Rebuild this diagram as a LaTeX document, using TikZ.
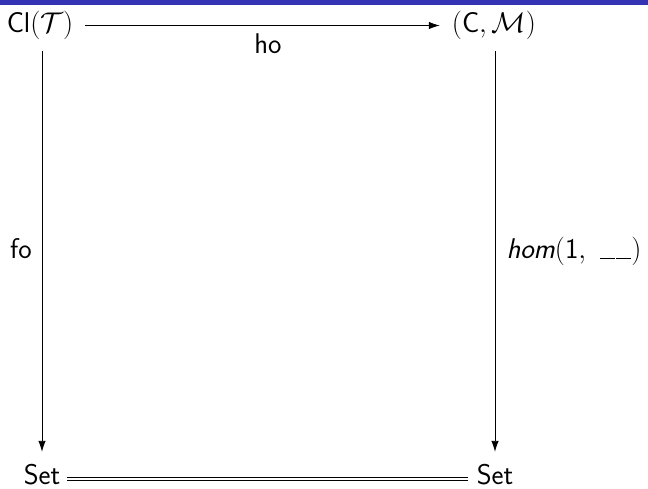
\RequirePackage{fix-cm}
\documentclass[tikz,border=0pt]{standalone}
\usetikzlibrary{arrows.meta}
\definecolor{barblue}{RGB}{51,51,179}
\newcommand{\blankarg}{\rule[-0.6pt]{15pt}{1.1pt}\hspace{1.5pt}\rule[-0.6pt]{15pt}{1.1pt}}
\begin{document}
\begin{tikzpicture}[x=1pt,y=-1pt,
  obj/.style={inner sep=12pt, text height=20pt, text depth=7pt,
    font=\fontsize{28.5}{34}\selectfont\sffamily},
  setobj/.style={inner xsep=0pt, inner ysep=3pt, text height=29pt, text depth=0pt,
    font=\fontsize{28.5}{34}\selectfont\sffamily},
  lbl/.style={inner sep=0pt, anchor=base, font=\fontsize{28.5}{34}\selectfont\sffamily},
  arr/.style={line width=0.9pt, -{Latex[length=11pt,width=7.5pt]}},
  eqline/.style={draw=black, line width=0.8pt, shorten <=7pt, shorten >=9pt}]
\useasboundingbox (0,0) rectangle (648,488);
\fill[barblue] (0,0) rectangle (648,5);
\node[obj, anchor=base] (cl) at (40,32) {$\mathsf{Cl}(\mathcal{T})$};
\node[obj, anchor=base] (cm) at (494,32) {$(\mathsf{C},\mathcal{M})$};
\node[setobj, anchor=base] (sl) at (42,484) {Set};
\node[setobj, anchor=base] (sr) at (495,484) {Set};
\draw[arr] (cl.south -| sl) -- (sl);
\draw[arr] (cm.south -| sr) -- (sr);
\draw[arr] (cl) -- (cm);
\draw[eqline] ([yshift=6.5pt]sl.base east) -- ([yshift=6.5pt]sr.base west);
\draw[eqline] ([yshift=3.5pt]sl.base east) -- ([yshift=3.5pt]sr.base west);
\node[lbl] (ho) at (268,53) {ho};
\node[lbl] (fo) at (21,258) {fo};
\node[lbl] (hom) at (574,258) {$\textit{hom}(\mathsf{1},\ \blankarg)$};
\end{tikzpicture}
\end{document}
